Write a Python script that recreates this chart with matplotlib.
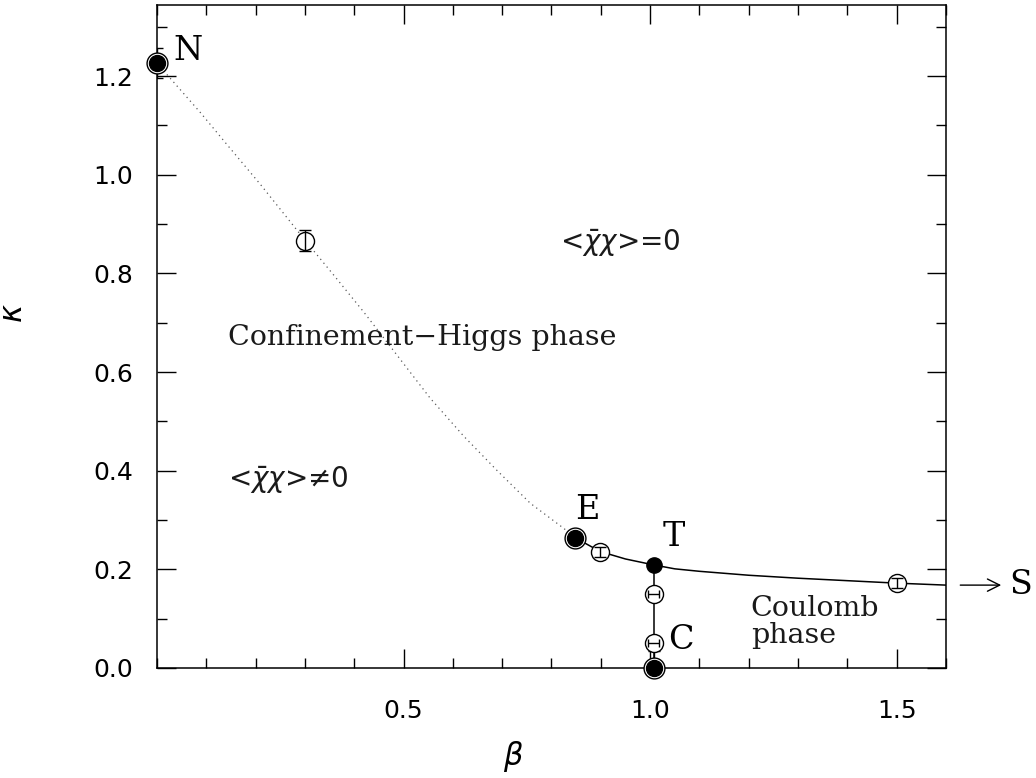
import matplotlib

matplotlib.use("Agg")
import matplotlib.pyplot as plt  # noqa: E402
from matplotlib.ticker import MultipleLocator  # noqa: E402

# dotted first-order line N -> E
DOT_BETA = [0.0, 0.037, 0.088, 0.142, 0.210, 0.274, 0.301, 0.358, 0.419,
            0.480, 0.554, 0.622, 0.690, 0.757, 0.825, 0.848]
DOT_KAPPA = [1.226, 1.184, 1.126, 1.061, 0.980, 0.900, 0.866, 0.797, 0.722,
             0.643, 0.547, 0.470, 0.400, 0.334, 0.283, 0.264]

# solid line E -> T -> S
SOL_BETA = [0.848, 0.899, 0.95, 1.007, 1.05, 1.10, 1.20, 1.30, 1.40, 1.50,
            1.60]
SOL_KAPPA = [0.264, 0.236, 0.221, 0.209, 0.201, 0.196, 0.188, 0.182, 0.177,
             0.172, 0.168]

# vertical line T -> C
VERT_BETA = [1.007, 1.007]
VERT_KAPPA = [0.209, 0.0]

# endpoints with ring (N, E, C-bottom)
RING_BETA = [0.0, 0.848, 1.007]
RING_KAPPA = [1.226, 0.264, 0.0]
RING_YERR = [0.03, 0.0, 0.035]

# triple point T
T_BETA = [1.007]
T_KAPPA = [0.209]

# open circles, vertical error bars
OV_BETA = [0.301, 0.899, 1.500]
OV_KAPPA = [0.866, 0.236, 0.172]
OV_YERR = [0.021, 0.010, 0.010]

# open circles, horizontal error bars
OH_BETA = [1.007, 1.007]
OH_KAPPA = [0.151, 0.050]
OH_XERR = [0.012, 0.012]


def main() -> None:
    plt.rcParams["mathtext.fontset"] = "dejavusans"
    fig = plt.figure(figsize=(10.36, 7.78), dpi=100)
    ax = fig.add_axes([0.1515, 0.1414, 0.7616, 0.8522])

    ax.plot(DOT_BETA, DOT_KAPPA, ls=(0, (1, 3)), color="0.35", lw=0.9)
    ax.plot(SOL_BETA, SOL_KAPPA, color="k", lw=1.1)
    ax.plot(VERT_BETA, VERT_KAPPA, color="k", lw=1.1)

    # open circles first, error bars drawn on top of them
    ax.plot(OV_BETA + OH_BETA, OV_KAPPA + OH_KAPPA, "o", ms=13, mfc="white",
            mec="k", mew=1.0, zorder=4)
    ax.errorbar(OV_BETA, OV_KAPPA, yerr=OV_YERR, fmt="none", ecolor="k",
                elinewidth=1.0, capsize=4, zorder=5)
    ax.errorbar(OH_BETA, OH_KAPPA, xerr=OH_XERR, fmt="none", ecolor="k",
                elinewidth=1.0, capsize=3, zorder=5)
    ax.errorbar(RING_BETA, RING_KAPPA, yerr=RING_YERR, fmt="none",
                ecolor="k", elinewidth=1.0, capsize=4, zorder=3)
    ax.plot(RING_BETA, RING_KAPPA, "o", ms=15, mfc="white", mec="k",
            mew=1.0, zorder=5, clip_on=False)
    ax.plot(RING_BETA, RING_KAPPA, "o", ms=11.5, mfc="k", mec="k",
            zorder=6, clip_on=False)
    ax.plot(T_BETA, T_KAPPA, "o", ms=11, mfc="k", mec="k", zorder=6)

    serif = "DejaVu Serif"
    big = dict(family=serif, fontsize=24, va="center", ha="left")
    ax.text(0.034, 1.251, "N", **big)
    ax.text(0.848, 0.320, "E", **big)
    ax.text(1.025, 0.266, "T", **big)
    ax.text(1.036, 0.057, "C", **big)
    ax.annotate("", xy=(1.712, 0.168), xytext=(1.629, 0.168),
                arrowprops=dict(arrowstyle="->", lw=1.0, color="k",
                                mutation_scale=22, shrinkA=0, shrinkB=0),
                annotation_clip=False)
    ax.text(1.728, 0.168, "S", clip_on=False, **big)

    mid = dict(family=serif, fontsize=20.5, va="center", ha="left",
               color="0.1")
    ax.text(0.145, 0.669, "Confinement\u2212Higgs phase", **mid)
    ax.text(1.204, 0.094, "Coulomb\nphase", linespacing=1.0, **mid)
    ax.text(0.818, 0.862, r"<$\bar{\chi}\chi$>=0", fontsize=20,
            va="center", ha="left", color="0.1")
    ax.text(0.145, 0.381, "<$\\bar{\\chi}\\chi$>\u22600", fontsize=20,
            va="center", ha="left", color="0.1")

    ax.set_xlim(0, 1.6)
    ax.set_ylim(0, 1.344)
    ax.xaxis.set_major_locator(MultipleLocator(0.5))
    ax.xaxis.set_minor_locator(MultipleLocator(0.1))
    ax.yaxis.set_major_locator(MultipleLocator(0.2))
    ax.yaxis.set_minor_locator(MultipleLocator(0.1))
    ax.set_xticks([0.5, 1.0, 1.5])
    ax.set_xticklabels(["0.5", "1.0", "1.5"])
    ax.tick_params(which="both", direction="in", top=True, right=True,
                   width=1.0, colors="k")
    ax.tick_params(which="major", length=14)
    ax.tick_params(which="minor", length=7)
    ax.tick_params(axis="x", which="major", pad=22, labelsize=18)
    ax.tick_params(axis="y", which="major", pad=17, labelsize=18)
    for sp in ax.spines.values():
        sp.set_linewidth(1.1)

    ax.set_xlabel(r"$\beta$", fontsize=22, va="center")
    ax.set_ylabel(r"$\kappa$", fontsize=22, va="center")
    ax.xaxis.set_label_coords(0.452, -0.134)
    ax.yaxis.set_label_coords(-0.182, 0.535)

    fig.savefig("out.png", dpi=100)


if __name__ == "__main__":
    main()
